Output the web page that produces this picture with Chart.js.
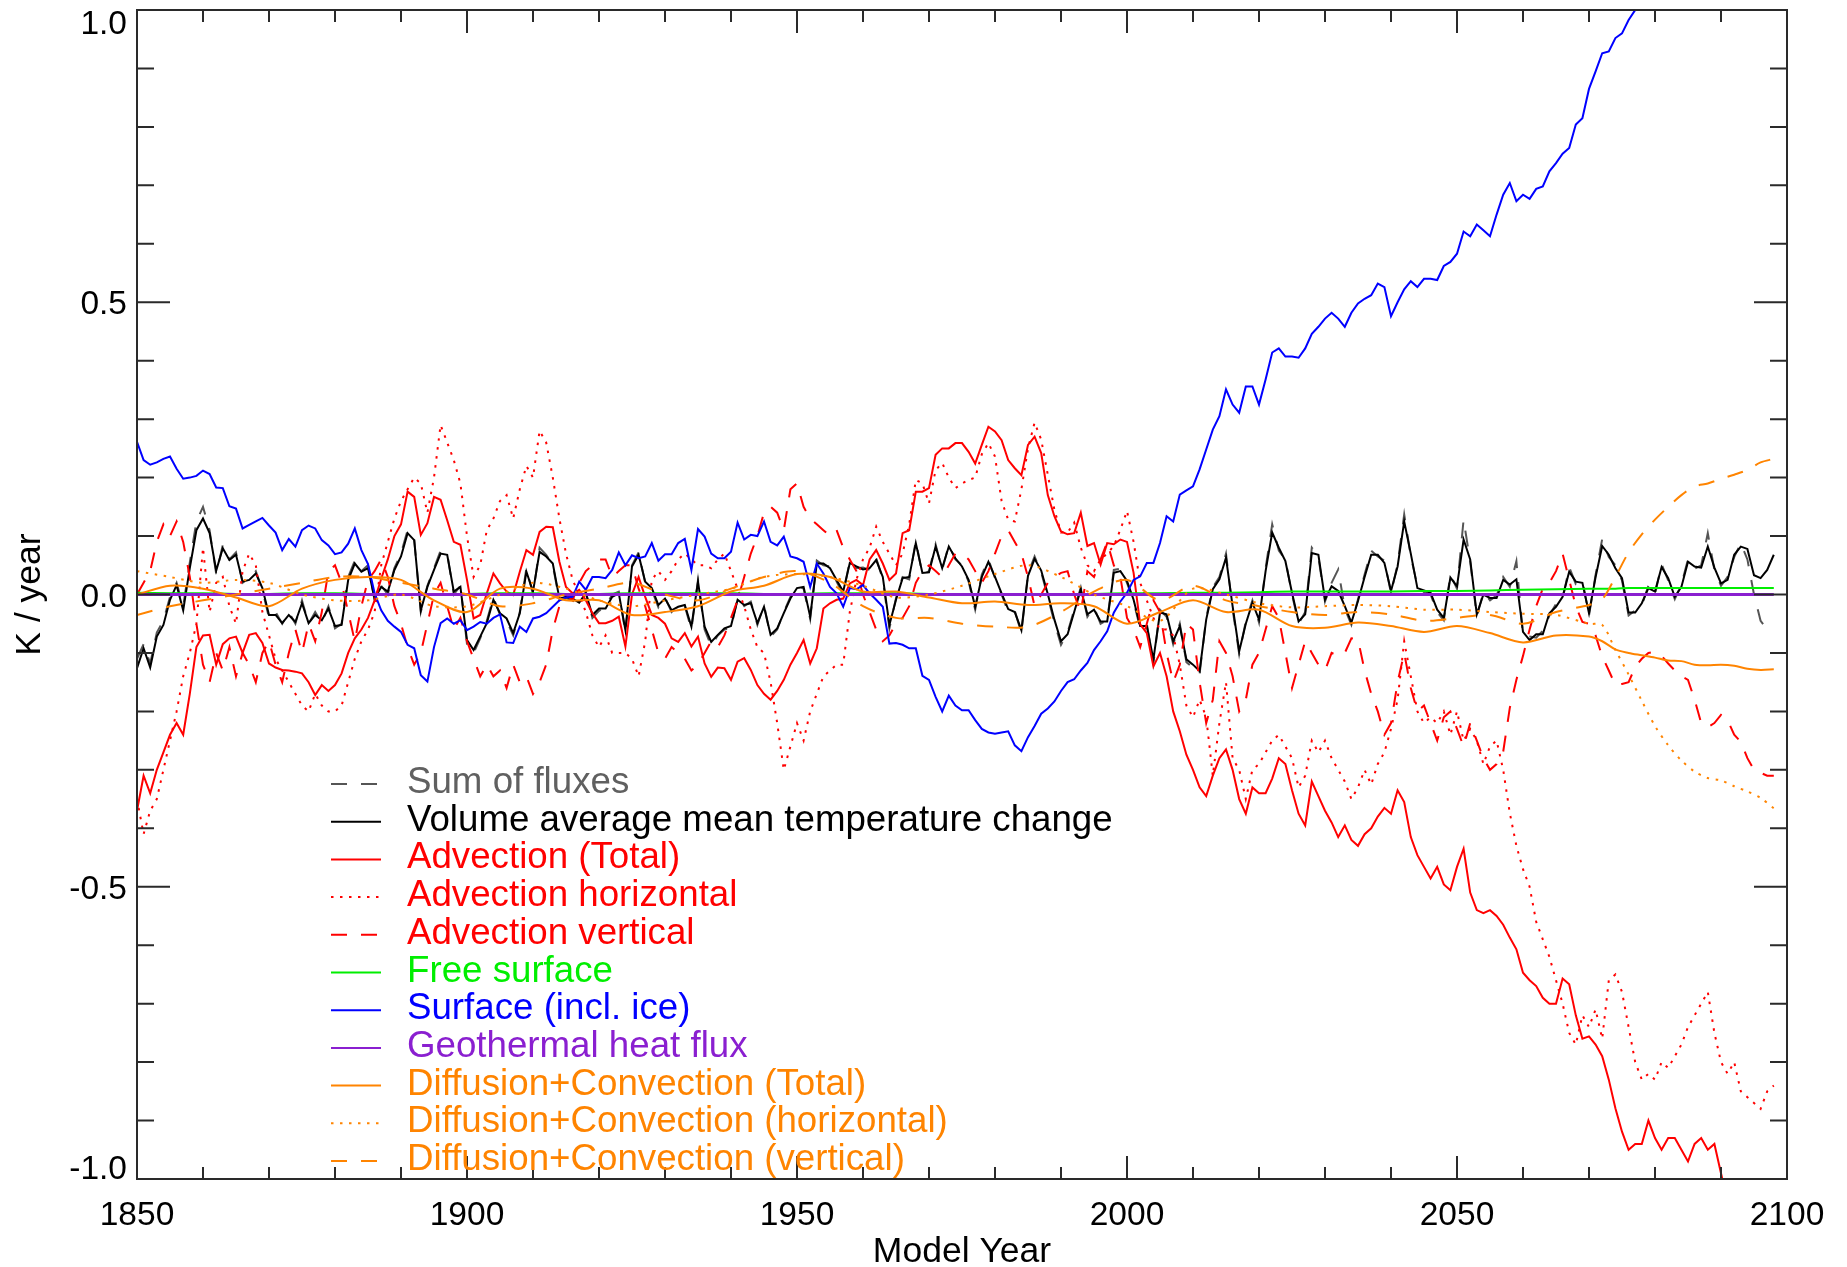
<!DOCTYPE html>
<html>
<head>
<meta charset="utf-8">
<title>Heat budget</title>
<script src="https://cdn.jsdelivr.net/npm/chart.js@4.4.1/dist/chart.umd.min.js"></script>
<style>
  html, body { margin: 0; padding: 0; background: #fff; }
  #wrap { width: 1847px; height: 1267px; }
</style>
</head>
<body>
<div id="wrap"><canvas id="budget" width="1847" height="1267"></canvas></div>
<script>
// Annual model years
const years = [];
for (let y = 1850; y <= 2098; y++) years.push(y);

// Years for the smooth series (5-yearly, 2-yearly at the end)
const smoothYears = [
  1850, 1855, 1860, 1865, 1870, 1875, 1880, 1885, 1890, 1895,
  1900, 1905, 1910, 1915, 1920, 1925, 1930, 1935, 1940, 1945,
  1950, 1955, 1960, 1965, 1970, 1975, 1980, 1985, 1990, 1995,
  2000, 2005, 2010, 2015, 2020, 2025, 2030, 2035, 2040, 2045,
  2050, 2055, 2060, 2065, 2070,
  2072, 2074, 2076, 2078, 2080, 2082, 2084, 2086, 2088, 2090, 2092, 2094, 2096, 2098
];
const geoYears = [1850, 2098];

// Axis ticks
const xTickValues = [1850, 1900, 1950, 2000, 2050, 2100];
const xTickLabels = ['1850', '1900', '1950', '2000', '2050', '2100'];
const yTickValues = [1.0, 0.5, 0.0, -0.5, -1.0];
const yTickLabels = ['1.0', '0.5', '0.0', '-0.5', '-1.0'];

// Sum of fluxes (1850-2098)
const sumFluxes = [
  -0.110, -0.085, -0.118, -0.065, -0.045, -0.004, 0.020, -0.020, 0.055, 0.125,
  0.150, 0.110, 0.035, 0.085, 0.060, 0.072, 0.020, 0.028, 0.040, 0.008,
  -0.040, -0.030, -0.050, -0.030, -0.050, -0.010, -0.050, -0.030, -0.048, -0.020,
  -0.058, -0.050, 0.030, 0.058, 0.040, 0.050, -0.010, 0.015, 0.000, 0.045,
  0.070, 0.110, 0.095, -0.030, 0.015, 0.045, 0.075, 0.070, 0.000, 0.015,
  -0.085, -0.100, -0.075, -0.045, -0.005, -0.035, -0.045, -0.070, -0.030, 0.045,
  0.000, 0.080, 0.068, 0.050, -0.010, -0.006, -0.010, -0.018, 0.005, -0.040,
  -0.028, -0.020, 0.000, 0.005, -0.065, 0.050, 0.072, 0.020, 0.008, -0.022,
  -0.005, -0.030, -0.018, -0.020, -0.060, 0.025, -0.060, -0.088, -0.070, -0.060,
  -0.058, -0.006, -0.020, -0.012, -0.052, -0.018, -0.072, -0.060, -0.030, -0.004,
  0.015, 0.010, -0.042, 0.058, 0.050, 0.048, 0.022, 0.000, 0.058, 0.045,
  0.046, 0.042, 0.062, 0.026, -0.058, -0.006, 0.030, 0.026, 0.092, 0.034,
  0.040, 0.086, 0.042, 0.085, 0.060, 0.050, 0.022, -0.026, 0.034, 0.060,
  0.028, 0.000, -0.030, -0.028, -0.066, 0.036, 0.065, 0.038, -0.004, -0.048,
  -0.086, -0.065, -0.026, 0.012, -0.038, -0.022, -0.050, -0.044, 0.042, 0.044,
  0.020, -0.012, -0.058, -0.050, -0.118, -0.026, -0.038, -0.085, -0.050, -0.116,
  -0.125, -0.136, -0.040, 0.012, 0.030, 0.070, -0.025, -0.102, -0.046, -0.010,
  -0.048, 0.045, 0.120, 0.075, 0.060, 0.000, -0.050, -0.030, 0.080, 0.064,
  -0.012, 0.020, 0.043, -0.024, -0.052, -0.008, 0.034, 0.075, 0.065, 0.058,
  0.002, 0.052, 0.137, 0.065, 0.015, 0.004, 0.000, -0.030, -0.044, 0.034,
  0.010, 0.128, 0.056, -0.038, 0.004, -0.010, -0.002, 0.030, 0.013, 0.057,
  -0.070, -0.072, -0.074, -0.062, -0.036, -0.016, -0.008, 0.047, 0.018, 0.024,
  -0.036, 0.034, 0.095, 0.064, 0.050, 0.024, -0.036, -0.027, -0.019, 0.015,
  0.000, 0.052, 0.024, -0.008, 0.017, 0.060, 0.044, 0.050, 0.105, 0.042,
  0.015, 0.030, 0.064, 0.088, 0.060, 0.000, -0.045, -0.060, -0.055
];

// Volume average mean temperature change (1850-2098)
const volMean = [
  -0.126, -0.092, -0.125, -0.072, -0.052, -0.009, 0.016, -0.027, 0.045, 0.110,
  0.130, 0.105, 0.041, 0.079, 0.059, 0.068, 0.022, 0.025, 0.036, 0.011,
  -0.035, -0.035, -0.049, -0.035, -0.047, -0.015, -0.049, -0.035, -0.044, -0.024,
  -0.054, -0.052, 0.025, 0.053, 0.039, 0.045, -0.007, 0.013, 0.005, 0.042,
  0.065, 0.105, 0.093, -0.027, 0.013, 0.042, 0.070, 0.068, 0.005, 0.013,
  -0.078, -0.095, -0.072, -0.049, -0.009, -0.032, -0.041, -0.066, -0.032, 0.039,
  0.005, 0.073, 0.065, 0.053, -0.007, -0.004, -0.007, -0.014, 0.002, -0.035,
  -0.024, -0.024, -0.004, 0.002, -0.061, 0.048, 0.068, 0.022, 0.011, -0.018,
  -0.007, -0.027, -0.021, -0.018, -0.055, 0.022, -0.055, -0.081, -0.069, -0.058,
  -0.054, -0.009, -0.018, -0.015, -0.049, -0.021, -0.069, -0.058, -0.032, -0.007,
  0.011, 0.013, -0.038, 0.053, 0.053, 0.045, 0.025, 0.005, 0.054, 0.048,
  0.043, 0.045, 0.059, 0.030, -0.052, -0.009, 0.028, 0.030, 0.088, 0.037,
  0.038, 0.082, 0.045, 0.082, 0.062, 0.048, 0.025, -0.021, 0.030, 0.056,
  0.030, 0.002, -0.025, -0.030, -0.061, 0.032, 0.061, 0.041, 0.001, -0.043,
  -0.080, -0.068, -0.030, 0.009, -0.034, -0.026, -0.046, -0.046, 0.037, 0.040,
  0.023, -0.009, -0.054, -0.054, -0.111, -0.031, -0.034, -0.080, -0.054, -0.111,
  -0.120, -0.131, -0.043, 0.009, 0.026, 0.063, -0.020, -0.097, -0.050, -0.014,
  -0.043, 0.040, 0.106, 0.080, 0.057, 0.003, -0.046, -0.034, 0.071, 0.068,
  -0.009, 0.014, 0.006, -0.020, -0.048, -0.011, 0.030, 0.068, 0.068, 0.054,
  0.006, 0.048, 0.125, 0.070, 0.011, 0.007, 0.003, -0.026, -0.040, 0.029,
  0.014, 0.094, 0.060, -0.034, 0.000, -0.006, -0.006, 0.025, 0.017, 0.026,
  -0.064, -0.078, -0.068, -0.068, -0.032, -0.021, -0.004, 0.039, 0.022, 0.020,
  -0.032, 0.030, 0.083, 0.068, 0.045, 0.028, -0.031, -0.031, -0.015, 0.011,
  0.005, 0.047, 0.028, -0.004, 0.013, 0.056, 0.048, 0.046, 0.082, 0.046,
  0.019, 0.025, 0.068, 0.082, 0.078, 0.033, 0.028, 0.042, 0.068
];

// Advection (Total) (1850-2098)
const advTotal = [
  -0.370, -0.310, -0.340, -0.300, -0.270, -0.240, -0.220, -0.240, -0.170, -0.090,
  -0.070, -0.069, -0.120, -0.085, -0.075, -0.072, -0.100, -0.069, -0.066, -0.083,
  -0.118, -0.125, -0.129, -0.130, -0.132, -0.135, -0.150, -0.172, -0.155, -0.165,
  -0.155, -0.135, -0.100, -0.075, -0.060, -0.040, -0.010, 0.027, 0.060, 0.100,
  0.120, 0.176, 0.167, 0.102, 0.122, 0.167, 0.162, 0.127, 0.090, 0.085,
  0.025, -0.041, -0.035, 0.002, 0.036, 0.019, 0.005, -0.001, 0.039, 0.076,
  0.068, 0.107, 0.116, 0.115, 0.056, 0.013, 0.002, 0.008, -0.010, -0.032,
  -0.049, -0.049, -0.045, -0.038, -0.089, 0.000, 0.030, -0.004, -0.035, -0.040,
  -0.050, -0.075, -0.081, -0.066, -0.089, -0.072, -0.118, -0.141, -0.125, -0.126,
  -0.146, -0.115, -0.109, -0.129, -0.155, -0.170, -0.180, -0.165, -0.146, -0.120,
  -0.100, -0.078, -0.118, -0.092, -0.024, -0.015, -0.009, -0.007, 0.019, 0.025,
  0.016, 0.060, 0.076, 0.053, 0.025, 0.036, 0.105, 0.110, 0.176, 0.176,
  0.182, 0.239, 0.250, 0.250, 0.259, 0.259, 0.244, 0.224, 0.256, 0.287,
  0.279, 0.264, 0.230, 0.216, 0.204, 0.256, 0.270, 0.242, 0.170, 0.134,
  0.108, 0.103, 0.105, 0.140, 0.083, 0.088, 0.051, 0.088, 0.086, 0.094,
  0.090, 0.037, -0.051, -0.066, -0.123, -0.100, -0.140, -0.200, -0.234, -0.274,
  -0.300, -0.330, -0.345, -0.310, -0.280, -0.265, -0.300, -0.350, -0.375, -0.330,
  -0.340, -0.340, -0.315, -0.280, -0.290, -0.335, -0.375, -0.395, -0.320, -0.345,
  -0.370, -0.390, -0.415, -0.395, -0.420, -0.430, -0.410, -0.400, -0.380, -0.365,
  -0.375, -0.335, -0.355, -0.415, -0.446, -0.466, -0.486, -0.466, -0.496, -0.506,
  -0.466, -0.435, -0.510, -0.540, -0.545, -0.540, -0.550, -0.565, -0.587, -0.607,
  -0.647, -0.660, -0.670, -0.690, -0.700, -0.700, -0.657, -0.667, -0.720, -0.760,
  -0.756, -0.770, -0.790, -0.830, -0.879, -0.919, -0.950, -0.940, -0.940, -0.900,
  -0.930, -0.950, -0.930, -0.930, -0.950, -0.970, -0.940, -0.930, -0.950, -0.940,
  -0.990, -1.040, -1.080, -1.100, -1.120, -1.140, -1.150, -1.160, -1.170
];

// Advection horizontal (1850-2098)
const advHoriz = [
  -0.350, -0.410, -0.370, -0.350, -0.300, -0.250, -0.200, -0.140, -0.100, -0.050,
  0.080, -0.030, 0.020, 0.030, -0.020, -0.050, 0.040, 0.070, 0.050, -0.030,
  -0.070, -0.110, -0.130, -0.150, -0.170, -0.190, -0.200, -0.170, -0.190, -0.200,
  -0.200, -0.190, -0.150, -0.110, -0.080, -0.060, -0.030, 0.050, 0.090, 0.130,
  0.160, 0.180, 0.200, 0.190, 0.140, 0.200, 0.290, 0.260, 0.230, 0.190,
  0.100, 0.030, 0.050, 0.110, 0.130, 0.160, 0.170, 0.130, 0.180, 0.220,
  0.200, 0.280, 0.260, 0.200, 0.130, 0.070, 0.025, 0.000, -0.030, -0.070,
  -0.090, -0.070, -0.100, -0.100, -0.100, -0.110, -0.140, -0.080, 0.025, 0.040,
  0.025, 0.040, 0.060, 0.070, 0.060, 0.050, 0.050, 0.045, 0.060, 0.070,
  0.040, 0.010, -0.020, -0.060, -0.090, -0.100, -0.150, -0.220, -0.300, -0.260,
  -0.220, -0.250, -0.200, -0.170, -0.140, -0.130, -0.120, -0.120, -0.030, 0.025,
  0.060, 0.080, 0.116, 0.090, 0.070, 0.050, 0.070, 0.120, 0.196, 0.190,
  0.156, 0.213, 0.225, 0.200, 0.182, 0.190, 0.196, 0.200, 0.240, 0.259,
  0.236, 0.160, 0.128, 0.125, 0.180, 0.250, 0.294, 0.265, 0.205, 0.145,
  0.106, 0.106, 0.123, 0.080, 0.050, 0.040, 0.060, 0.070, 0.083, 0.111,
  0.143, 0.090, 0.020, -0.010, -0.040, -0.060, -0.060, -0.070, -0.120, -0.190,
  -0.210, -0.180, -0.210, -0.310, -0.220, -0.150, -0.280, -0.300, -0.350, -0.300,
  -0.290, -0.270, -0.250, -0.240, -0.260, -0.280, -0.330, -0.310, -0.250, -0.270,
  -0.250, -0.280, -0.300, -0.320, -0.350, -0.330, -0.300, -0.325, -0.290, -0.270,
  -0.230, -0.180, -0.080, -0.140, -0.200, -0.220, -0.210, -0.220, -0.200, -0.240,
  -0.200, -0.250, -0.230, -0.250, -0.290, -0.260, -0.250, -0.300, -0.374, -0.430,
  -0.470, -0.500, -0.560, -0.590, -0.620, -0.660, -0.700, -0.750, -0.770, -0.720,
  -0.740, -0.710, -0.760, -0.660, -0.650, -0.680, -0.740, -0.800, -0.830, -0.820,
  -0.830, -0.800, -0.810, -0.790, -0.770, -0.740, -0.720, -0.700, -0.680, -0.750,
  -0.800, -0.820, -0.800, -0.850, -0.860, -0.870, -0.880, -0.850, -0.840
];

// Advection vertical (1850-2098)
const advVert = [
  0.000, 0.020, 0.040, 0.090, 0.120, 0.100, 0.125, 0.090, 0.030, -0.050,
  -0.120, -0.150, -0.100, -0.130, -0.090, -0.140, -0.100, -0.120, -0.150, -0.100,
  -0.080, -0.120, -0.150, -0.100, -0.060, -0.100, -0.050, -0.080, -0.030, 0.040,
  0.050, 0.020, -0.030, -0.080, -0.020, 0.025, 0.040, 0.060, 0.030, -0.020,
  -0.050, -0.090, -0.120, -0.100, -0.050, 0.000, 0.020, -0.020, -0.060, -0.040,
  -0.080, -0.110, -0.140, -0.120, -0.140, -0.130, -0.160, -0.120, -0.150, -0.140,
  -0.170, -0.150, -0.120, -0.060, -0.020, 0.000, -0.010, 0.020, 0.040, 0.050,
  0.060, 0.060, 0.030, 0.040, 0.050, 0.050, 0.010, -0.020, -0.060, -0.100,
  -0.110, -0.090, -0.100, -0.110, -0.130, -0.120, -0.100, -0.080, -0.090, -0.070,
  -0.040, -0.010, 0.030, 0.070, 0.100, 0.140, 0.150, 0.140, 0.110, 0.180,
  0.190, 0.150, 0.130, 0.120, 0.110, 0.100, 0.110, 0.080, 0.060, 0.040,
  0.000, -0.030, -0.060, -0.080, -0.070, -0.050, -0.040, -0.020, 0.020, 0.040,
  0.050, 0.040, 0.030, 0.050, 0.070, 0.070, 0.060, 0.040, 0.020, 0.040,
  0.070, 0.100, 0.110, 0.090, 0.070, 0.030, -0.020, 0.000, 0.020, 0.030,
  0.037, 0.040, 0.000, -0.030, 0.040, 0.030, 0.060, 0.090, 0.050, 0.030,
  -0.040, -0.060, -0.090, -0.050, -0.010, -0.030, -0.100, -0.150, -0.120, -0.050,
  -0.060, -0.150, -0.220, -0.180, -0.080, -0.100, -0.140, -0.200, -0.180, -0.120,
  -0.100, -0.060, -0.020, -0.040, -0.100, -0.160, -0.120, -0.080, -0.100, -0.120,
  -0.130, -0.100, -0.105, -0.100, -0.075, -0.077, -0.130, -0.170, -0.200, -0.240,
  -0.220, -0.150, -0.100, -0.160, -0.200, -0.190, -0.220, -0.250, -0.210, -0.200,
  -0.230, -0.260, -0.220, -0.250, -0.280, -0.300, -0.290, -0.269, -0.194, -0.146,
  -0.105, -0.060, -0.020, 0.010, 0.020, 0.040, 0.070, 0.025, -0.020, -0.047,
  -0.050, -0.070, -0.106, -0.130, -0.155, -0.153, -0.150, -0.124, -0.110, -0.100,
  -0.098, -0.105, -0.118, -0.130, -0.140, -0.146, -0.180, -0.220, -0.227, -0.220,
  -0.206, -0.215, -0.240, -0.252, -0.280, -0.300, -0.305, -0.310, -0.310
];

// Free surface (smoothYears)
const freeSurface = [
  0.003, 0.002, 0.002, 0.001, 0.001, 0.002, 0.002, 0.001, 0.000, 0.001,
  0.001, 0.002, 0.002, 0.001, 0.001, 0.002, 0.002, 0.002, 0.002, 0.001,
  0.001, 0.002, 0.002, 0.002, 0.001, 0.001, 0.001, 0.001, 0.001, 0.001,
  0.002, 0.002, 0.003, 0.003, 0.004, 0.005, 0.005, 0.005, 0.005, 0.006,
  0.006, 0.007, 0.008, 0.009, 0.010,
  0.010, 0.010, 0.011, 0.011, 0.011, 0.011, 0.011, 0.011, 0.011, 0.011, 0.011, 0.011, 0.011, 0.011
];

// Surface (incl. ice) (1850-2078, leaves the plot at the top)
const surfaceFlux = [
  0.261, 0.230, 0.222, 0.226, 0.232, 0.236, 0.215, 0.198, 0.200, 0.203,
  0.212, 0.206, 0.183, 0.182, 0.151, 0.147, 0.113, 0.119, 0.125, 0.131,
  0.118, 0.106, 0.076, 0.095, 0.082, 0.110, 0.118, 0.113, 0.093, 0.084,
  0.069, 0.072, 0.087, 0.113, 0.076, 0.052, 0.002, -0.027, -0.045, -0.055,
  -0.064, -0.086, -0.092, -0.138, -0.149, -0.090, -0.049, -0.041, -0.050, -0.044,
  -0.061, -0.055, -0.047, -0.050, -0.040, -0.034, -0.082, -0.083, -0.055, -0.064,
  -0.041, -0.038, -0.032, -0.021, -0.010, -0.005, -0.004, 0.022, 0.008, 0.030,
  0.030, 0.028, 0.042, 0.072, 0.050, 0.067, 0.062, 0.065, 0.088, 0.058,
  0.069, 0.069, 0.088, 0.095, 0.042, 0.112, 0.099, 0.070, 0.062, 0.062,
  0.073, 0.123, 0.094, 0.102, 0.100, 0.125, 0.090, 0.084, 0.099, 0.065,
  0.062, 0.056, 0.013, 0.053, 0.036, 0.013, 0.002, -0.021, 0.011, 0.009,
  0.016, 0.002, -0.009, -0.021, -0.084, -0.083, -0.086, -0.092, -0.092, -0.139,
  -0.146, -0.175, -0.200, -0.173, -0.190, -0.198, -0.198, -0.215, -0.230, -0.236,
  -0.238, -0.236, -0.234, -0.258, -0.268, -0.244, -0.225, -0.204, -0.195, -0.183,
  -0.165, -0.150, -0.145, -0.130, -0.117, -0.095, -0.080, -0.063, -0.031, -0.012,
  0.003, 0.025, 0.031, 0.054, 0.054, 0.088, 0.134, 0.125, 0.171, 0.178,
  0.185, 0.214, 0.248, 0.282, 0.305, 0.351, 0.325, 0.311, 0.356, 0.356,
  0.325, 0.368, 0.414, 0.421, 0.407, 0.407, 0.405, 0.421, 0.446, 0.458,
  0.472, 0.482, 0.472, 0.458, 0.482, 0.498, 0.506, 0.512, 0.532, 0.526,
  0.476, 0.500, 0.522, 0.536, 0.526, 0.540, 0.540, 0.538, 0.562, 0.569,
  0.583, 0.621, 0.613, 0.633, 0.623, 0.613, 0.650, 0.684, 0.704, 0.673,
  0.684, 0.677, 0.694, 0.698, 0.724, 0.738, 0.754, 0.764, 0.804, 0.815,
  0.865, 0.895, 0.926, 0.929, 0.952, 0.960, 0.983, 1.000, 1.030
];

// Geothermal heat flux
const geoFlux = [0.0, 0.0];

// Diffusion+Convection (smoothYears)
const diffTotal = [
  0.000, 0.015, 0.010, -0.005, -0.020, 0.010, 0.025, 0.030, 0.025, -0.010,
  -0.030, 0.010, 0.010, -0.010, -0.010, -0.035, -0.030, -0.020, 0.005, 0.015,
  0.035, 0.030, 0.005, 0.005, -0.005, -0.015, -0.012, -0.018, -0.015, -0.020,
  -0.050, -0.030, -0.010, -0.030, -0.026, -0.054, -0.057, -0.048, -0.054, -0.064,
  -0.054, -0.066, -0.082, -0.070, -0.072,
  -0.080, -0.094, -0.100, -0.104, -0.108, -0.113, -0.114, -0.120, -0.121, -0.120, -0.122, -0.127, -0.129, -0.128
];
const diffHoriz = [
  0.040, 0.030, 0.020, 0.025, 0.020, 0.000, -0.010, -0.010, 0.000, -0.020,
  -0.020, 0.000, 0.020, 0.010, -0.010, -0.020, -0.010, 0.000, 0.010, 0.030,
  0.035, 0.030, 0.015, -0.005, 0.000, 0.015, 0.035, 0.050, 0.030, 0.000,
  -0.020, -0.045, 0.010, 0.000, -0.015, -0.022, -0.020, -0.018, -0.020, -0.026,
  -0.026, -0.030, -0.033, -0.035, -0.050,
  -0.052, -0.095, -0.137, -0.182, -0.225, -0.258, -0.284, -0.303, -0.314, -0.318, -0.328, -0.337, -0.348, -0.366
];
const diffVert = [
  -0.035, -0.020, -0.010, 0.000, 0.010, 0.020, 0.030, 0.030, 0.020, 0.010,
  0.000, -0.020, -0.015, 0.000, 0.010, 0.020, 0.000, -0.010, 0.010, 0.030,
  0.040, 0.020, -0.020, -0.040, -0.040, -0.050, -0.055, -0.055, -0.030, 0.005,
  0.025, -0.010, 0.015, -0.010, -0.020, -0.030, -0.035, -0.030, -0.034, -0.045,
  -0.040, -0.035, -0.050, -0.030, -0.018,
  -0.008, 0.030, 0.072, 0.103, 0.128, 0.150, 0.170, 0.185, 0.190, 0.198, 0.205, 0.213, 0.226, 0.232
];

function toPoints(xs, ys) {
  return ys.map((v, i) => ({ x: xs[i], y: v }));
}

const FONT = '"Liberation Sans", Arial, Helvetica, sans-serif';
const DASH = [16, 14];
const DOT = [2.5, 6.5];

// Frame, inward ticks, tick labels and axis titles
const axesPlugin = {
  id: 'idlAxes',
  afterDatasetsDraw(chart) {
    const { ctx, chartArea: a, scales } = chart;
    const xs = scales.x, ys = scales.y;
    ctx.save();
    ctx.strokeStyle = '#2a2a2a';
    ctx.lineWidth = 2;
    ctx.strokeRect(a.left, a.top, a.right - a.left, a.bottom - a.top);

    ctx.beginPath();
    for (let yr = 1850; yr <= 2100; yr += 10) {
      const px = xs.getPixelForValue(yr);
      const len = yr % 50 === 0 ? 23 : 12;
      ctx.moveTo(px, a.bottom); ctx.lineTo(px, a.bottom - len);
      ctx.moveTo(px, a.top); ctx.lineTo(px, a.top + len);
    }
    for (let i = -10; i <= 10; i++) {
      const py = ys.getPixelForValue(i / 10);
      const len = i % 5 === 0 ? 33 : 17;
      ctx.moveTo(a.left, py); ctx.lineTo(a.left + len, py);
      ctx.moveTo(a.right, py); ctx.lineTo(a.right - len, py);
    }
    ctx.stroke();

    ctx.fillStyle = '#000';
    ctx.font = '33.5px ' + FONT;
    ctx.textBaseline = 'alphabetic';
    ctx.textAlign = 'center';
    xTickValues.forEach((v, i) => {
      ctx.fillText(xTickLabels[i], xs.getPixelForValue(v), 1225);
    });
    ctx.textAlign = 'right';
    const capH = 24;
    yTickValues.forEach((v, i) => {
      const py = ys.getPixelForValue(v);
      const base = Math.min(Math.max(py + capH / 2, a.top + capH), a.bottom);
      ctx.fillText(yTickLabels[i], a.left - 10, base);
    });

    ctx.font = '35.5px ' + FONT;
    ctx.textAlign = 'center';
    ctx.fillText('Model Year', (a.left + a.right) / 2, 1262);
    ctx.save();
    ctx.translate(40, (a.top + a.bottom) / 2);
    ctx.rotate(-Math.PI / 2);
    ctx.fillText('K / year', 0, 0);
    ctx.restore();
    ctx.restore();
  }
};

// Legend drawn inside the plot, lower left
const legendPlugin = {
  id: 'idlLegend',
  afterDraw(chart) {
    const ctx = chart.ctx;
    ctx.save();
    ctx.font = '36.7px ' + FONT;
    ctx.textAlign = 'left';
    ctx.textBaseline = 'alphabetic';
    chart.data.datasets.forEach((ds, i) => {
      const base = 793 + i * 37.7;
      ctx.strokeStyle = ds.borderColor;
      ctx.lineWidth = 2;
      ctx.setLineDash(ds.borderDash || []);
      ctx.beginPath();
      ctx.moveTo(331, base - 9);
      ctx.lineTo(381, base - 9);
      ctx.stroke();
      ctx.setLineDash([]);
      ctx.fillStyle = ds.textColor || ds.borderColor;
      ctx.fillText(ds.label, 407, base);
    });
    ctx.restore();
  }
};

const datasets = [
  { label: 'Sum of fluxes', data: toPoints(years, sumFluxes), borderColor: '#555555', textColor: '#606060', borderDash: DASH },
  { label: 'Volume average mean temperature change', data: toPoints(years, volMean), borderColor: '#000000' },
  { label: 'Advection (Total)', data: toPoints(years, advTotal), borderColor: '#ff0000' },
  { label: 'Advection horizontal', data: toPoints(years, advHoriz), borderColor: '#ff0000', borderDash: DOT },
  { label: 'Advection vertical', data: toPoints(years, advVert), borderColor: '#ff0000', borderDash: DASH },
  { label: 'Free surface', data: toPoints(smoothYears, freeSurface), borderColor: '#00ee00', tension: 0.3 },
  { label: 'Surface (incl. ice)', data: toPoints(years, surfaceFlux), borderColor: '#0000ff' },
  { label: 'Geothermal heat flux', data: toPoints(geoYears, geoFlux), borderColor: '#8a1fd0', borderWidth: 3 },
  { label: 'Diffusion+Convection (Total)', data: toPoints(smoothYears, diffTotal), borderColor: '#ff8400', tension: 0.3 },
  { label: 'Diffusion+Convection (horizontal)', data: toPoints(smoothYears, diffHoriz), borderColor: '#ff8400', borderDash: DOT, tension: 0.3 },
  { label: 'Diffusion+Convection (vertical)', data: toPoints(smoothYears, diffVert), borderColor: '#ff8400', borderDash: DASH, tension: 0.3 }
];
datasets.forEach((ds, i) => {
  ds.borderWidth = ds.borderWidth || 2;
  ds.pointRadius = 0;
  ds.fill = false;
  ds.order = 20 - i;
  ds.borderCapStyle = 'butt';
  if (ds.tension === undefined) ds.tension = 0;
});

new Chart(document.getElementById('budget'), {
  type: 'line',
  data: { datasets: datasets },
  options: {
    responsive: false,
    animation: false,
    devicePixelRatio: 1,
    layout: { padding: { left: 137, right: 60, top: 10, bottom: 88 } },
    scales: {
      x: { type: 'linear', min: 1850, max: 2100, display: false },
      y: { type: 'linear', min: -1, max: 1, display: false }
    },
    plugins: {
      legend: { display: false },
      tooltip: { enabled: false }
    }
  },
  plugins: [axesPlugin, legendPlugin]
});
</script>
</body>
</html>
